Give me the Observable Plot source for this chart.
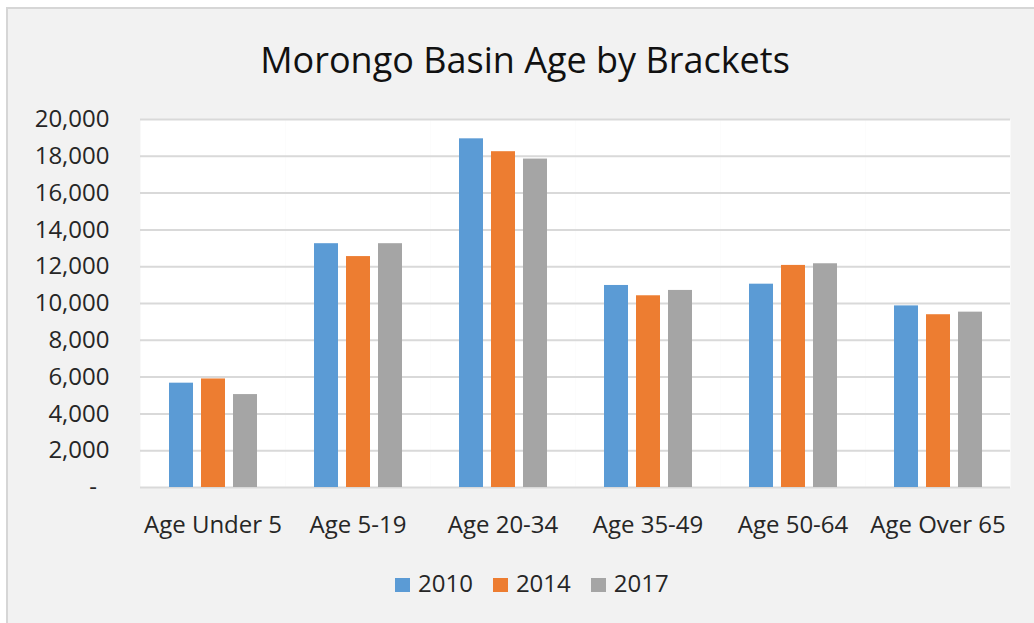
<!DOCTYPE html>
<html>
<head>
<meta charset="utf-8">
<script src="https://cdn.jsdelivr.net/npm/d3@7"></script>
<script src="https://cdn.jsdelivr.net/npm/@observablehq/plot@0.6"></script>
<style>
  html, body { margin: 0; padding: 0; background: #ffffff; width: 1034px; height: 623px; overflow: hidden; }
  #frame { position: absolute; left: 6px; top: 7px; right: 0; bottom: 0; background: #f2f2f2;
           border-left: 2px solid #d6d6d6; border-top: 2px solid #d6d6d6; }
  #title { position: absolute; left: 16px; top: 42px; width: 1018px; text-align: center;
           font-family: "Open Sans", sans-serif; font-size: 36px; line-height: 36px; color: #111; }
  #chart { position: absolute; left: 0; top: 100px; }
  #legend { position: absolute; left: 395px; top: 571px; display: flex; align-items: center;
            font-family: "Open Sans", sans-serif; font-size: 24px; line-height: 24px; color: #262626; }
  .sw { width: 15px; height: 14px; margin-right: 8px; position: relative; top: 2px; }
  .lab { margin-right: 20px; }
</style>
</head>
<body>
<div id="frame"></div>
<div id="title">Morongo Basin Age by Brackets</div>
<div id="chart"></div>
<div id="legend"></div>
<script>
const brackets = ["Age Under 5", "Age 5-19", "Age 20-34", "Age 35-49", "Age 50-64", "Age Over 65"];
const years = ["2010", "2014", "2017"];
const values2010 = [5670, 13250, 18950, 10980, 11050, 9870];
const values2014 = [5900, 12550, 18250, 10420, 12070, 9390];
const values2017 = [5050, 13250, 17850, 10710, 12160, 9530];
const yTicks = [0, 2000, 4000, 6000, 8000, 10000, 12000, 14000, 16000, 18000, 20000];
const colors = ["#5b9bd5", "#ed7d31", "#a5a5a5"];

const series = [values2010, values2014, values2017];
const data = [];
brackets.forEach((b, i) => {
  years.forEach((y, j) => data.push({bracket: b, year: y, value: series[j][i]}));
});

const fmt = d3.format(",");
const chart = Plot.plot({
  width: 1034,
  height: 460,
  marginTop: 19,
  marginBottom: 73,
  marginLeft: 140,
  marginRight: 24,
  style: {fontFamily: "Open Sans, sans-serif", fontSize: "24px", color: "#262626", background: "transparent", overflow: "visible"},
  fx: {domain: brackets, padding: 0, label: null, axis: "bottom", tickSize: 0, tickPadding: 28},
  x: {domain: years, paddingInner: 0.25, paddingOuter: 0.8625, axis: null},
  y: {domain: [0, 20000], label: null, ticks: yTicks, tickSize: 0, tickPadding: 31,
      tickFormat: d => d === 0 ? "-\u00A0\u00A0" : fmt(d)},
  color: {domain: years, range: colors},
  marks: [
    Plot.frame({fill: "white", stroke: "none"}),
    Plot.gridY(yTicks, {stroke: "#d9d9d9", strokeOpacity: 1, strokeWidth: 2}),
    Plot.barY(data, {fx: "bracket", x: "year", y: "value", fill: "year"})
  ]
});
document.getElementById("chart").appendChild(chart);

const legend = document.getElementById("legend");
years.forEach((y, j) => {
  const sw = document.createElement("span");
  sw.className = "sw";
  sw.style.background = colors[j];
  const lab = document.createElement("span");
  lab.className = "lab";
  lab.textContent = y;
  legend.appendChild(sw);
  legend.appendChild(lab);
});
</script>
</body>
</html>
